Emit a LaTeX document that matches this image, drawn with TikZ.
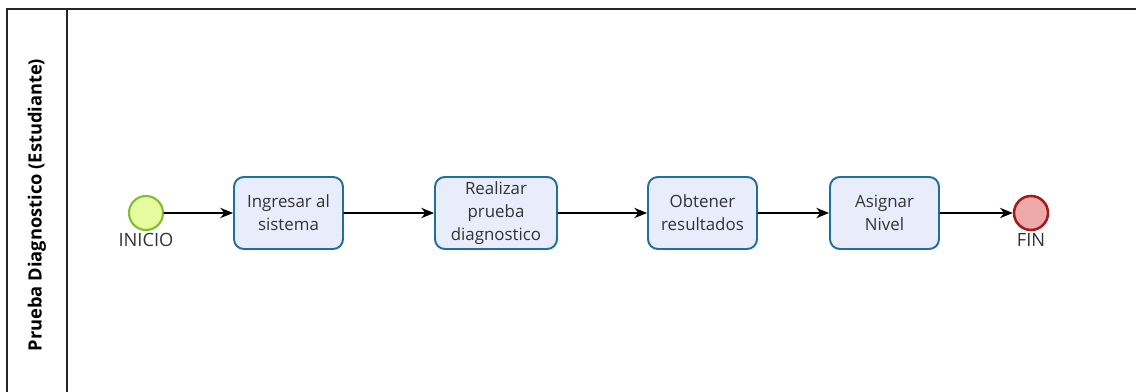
\documentclass[tikz,border=0pt]{standalone}
\usepackage{fontspec}
\setmainfont{Open Sans}
\usepackage{tikz}
\usetikzlibrary{arrows.meta}
\usepackage{xcolor}
\definecolor{taskfill}{HTML}{E8ECFB}
\definecolor{taskdraw}{HTML}{1F6F9F}
\definecolor{startfill}{HTML}{E6FA9E}
\definecolor{startdraw}{HTML}{7DBE32}
\definecolor{endfill}{HTML}{EDA8A8}
\definecolor{enddraw}{HTML}{A31C1C}
\definecolor{txt}{HTML}{333333}

\begin{document}
\begin{tikzpicture}[x=0.025cm,y=-0.025cm,>={Stealth[length=3.2mm,width=2.6mm]},
  font=\fontsize{12}{16.2}\selectfont,line cap=round,
  task/.style={draw=taskdraw,line width=1.4pt,fill=taskfill,rounded corners=7pt,
    minimum width=109*0.025cm,minimum height=72*0.025cm,align=center,text=txt,inner sep=1pt},
  evstart/.style={circle,draw=startdraw,line width=1.5pt,fill=startfill,minimum size=34*0.025cm,inner sep=0pt},
  evend/.style={circle,draw=enddraw,line width=1.8pt,fill=endfill,minimum size=34*0.025cm,inner sep=0pt},
  evlabel/.style={text=txt,inner sep=0pt,font=\fontsize{13}{15}\selectfont},
  flow/.style={->,line width=0.9pt}]
\useasboundingbox (0,0) rectangle (1136,392);
% pool
\draw[line width=0.9pt,line cap=butt,black!85] (7,392) -- (7,9) -- (1136,9);
\draw[line width=0.9pt,line cap=butt,black!85] (67,9) -- (67,392);
\node[rotate=90,font=\fontsize{13}{15}\bfseries] (lane) at (37,205) {Prueba Diagnostico (Estudiante)};
% events and tasks
\node[evstart] (inicio) at (146,213) {};
\node[evlabel] (inicioLbl) at (146,240) {INICIO};
\node[task] (ingresar) at (288.5,213) {Ingresar al\\sistema};
\node[task,minimum width=122*0.025cm] (realizar) at (496,213) {Realizar\\prueba\\diagnostico};
\node[task] (obtener) at (702.5,213) {Obtener\\resultados};
\node[task] (asignar) at (884.5,213) {Asignar\\Nivel};
\node[evend] (fin) at (1031,213) {};
\node[evlabel] (finLbl) at (1031,240) {FIN};
% sequence flows
\draw[flow] (inicio) -- (ingresar);
\draw[flow] (ingresar) -- (realizar);
\draw[flow] (realizar) -- (obtener);
\draw[flow] (obtener) -- (asignar);
\draw[flow] (asignar) -- (fin);
\end{tikzpicture}
\end{document}
